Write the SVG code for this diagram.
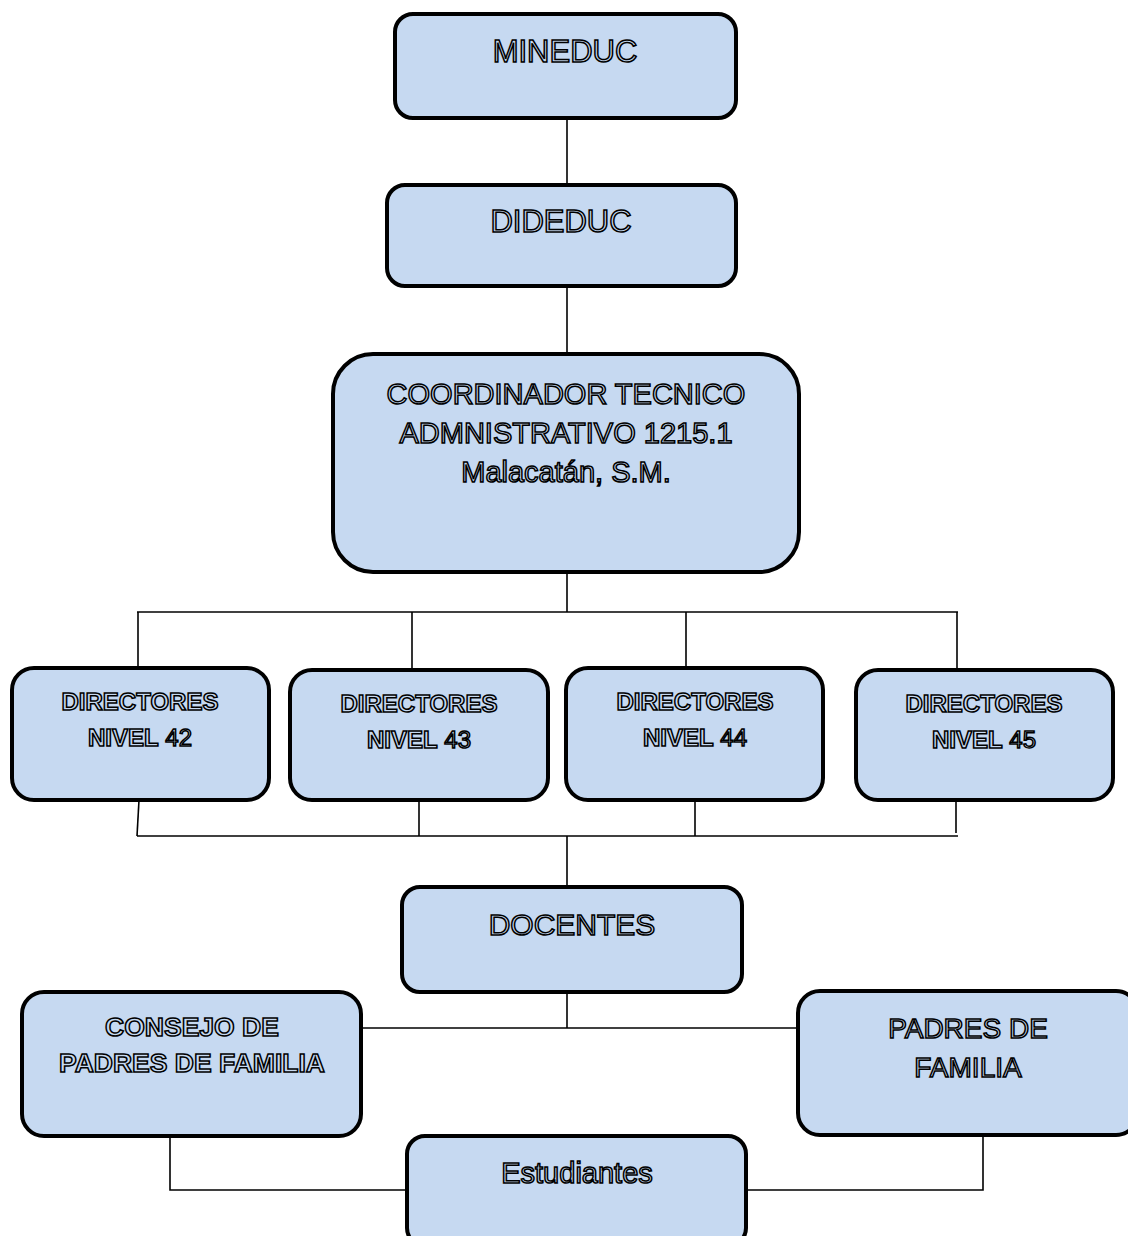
<svg xmlns="http://www.w3.org/2000/svg" width="1128" height="1236" viewBox="0 0 1128 1236">
<style>
.box{fill:#c6d9f1;stroke:#000;stroke-width:4}
.t{font-family:"Liberation Sans",Arial,sans-serif;fill:#c6d9f1;stroke:#000;stroke-width:1.5;text-anchor:middle}
.b{font-weight:bold}
.c{stroke:#000;stroke-width:1.6;fill:none}
</style>
<rect width="1128" height="1236" fill="#fff"/>
<g id="connectors">
<line class="c" x1="567" y1="118" x2="567" y2="185"/>
<line class="c" x1="567" y1="286" x2="567" y2="354"/>
<line class="c" x1="567" y1="572" x2="567" y2="612"/>
<line class="c" x1="137" y1="612" x2="958" y2="612"/>
<line class="c" x1="138" y1="612" x2="138" y2="668"/>
<line class="c" x1="412" y1="612" x2="412" y2="670"/>
<line class="c" x1="686" y1="612" x2="686" y2="668"/>
<line class="c" x1="957" y1="612" x2="957" y2="670"/>
<line class="c" x1="139" y1="800" x2="137" y2="836"/>
<line class="c" x1="419" y1="800" x2="419" y2="836"/>
<line class="c" x1="695" y1="800" x2="695" y2="836"/>
<line class="c" x1="956" y1="800" x2="956" y2="833"/>
<line class="c" x1="137" y1="836" x2="958" y2="836"/>
<line class="c" x1="567" y1="836" x2="567" y2="887"/>
<line class="c" x1="567" y1="992" x2="567" y2="1028"/>
<line class="c" x1="361" y1="1028" x2="798" y2="1028"/>
<polyline class="c" points="170,1136 170,1190 407,1190"/>
<polyline class="c" points="983,1135 983,1190 746,1190"/>
</g>
<g id="mineduc">
<rect class="box" x="395" y="14" width="341" height="104" rx="18"/>
<text class="t" x="565" y="62" font-size="31">MINEDUC</text>
</g>
<g id="dideduc">
<rect class="box" x="387" y="185" width="349" height="101" rx="18"/>
<text class="t" x="561" y="232" font-size="31">DIDEDUC</text>
</g>
<g id="coordinador">
<rect class="box" x="333" y="354" width="466" height="218" rx="40"/>
<text class="t" x="566" y="404" font-size="29">COORDINADOR TECNICO</text>
<text class="t" x="566" y="443" font-size="29">ADMNISTRATIVO 1215.1</text>
<text class="t" x="566" y="482" font-size="29">Malacatán, S.M.</text>
</g>
<g id="dir42">
<rect class="box" x="12" y="668" width="257" height="132" rx="22"/>
<text class="t" x="140" y="710" font-size="24"><tspan class="b">DIRECTORES</tspan></text>
<text class="t" x="140" y="746" font-size="24"><tspan class="b">NIVEL</tspan> 42</text>
</g>
<g id="dir43">
<rect class="box" x="290" y="670" width="258" height="130" rx="22"/>
<text class="t" x="419" y="712" font-size="24"><tspan class="b">DIRECTORES</tspan></text>
<text class="t" x="419" y="748" font-size="24"><tspan class="b">NIVEL</tspan> 43</text>
</g>
<g id="dir44">
<rect class="box" x="566" y="668" width="257" height="132" rx="22"/>
<text class="t" x="695" y="710" font-size="24"><tspan class="b">DIRECTORES</tspan></text>
<text class="t" x="695" y="746" font-size="24"><tspan class="b">NIVEL</tspan> 44</text>
</g>
<g id="dir45">
<rect class="box" x="856" y="670" width="257" height="130" rx="22"/>
<text class="t" x="984" y="712" font-size="24"><tspan class="b">DIRECTORES</tspan></text>
<text class="t" x="984" y="748" font-size="24"><tspan class="b">NIVEL</tspan> 45</text>
</g>
<g id="docentes">
<rect class="box" x="402" y="887" width="340" height="105" rx="18"/>
<text class="t" x="572" y="935" font-size="30">DOCENTES</text>
</g>
<g id="consejo">
<rect class="box" x="22" y="992" width="339" height="144" rx="22"/>
<text class="t b" x="192" y="1036" font-size="26.5">CONSEJO DE</text>
<text class="t b" x="192" y="1072" font-size="26.5">PADRES DE FAMILIA</text>
</g>
<g id="padres">
<rect class="box" x="798" y="991" width="340" height="144" rx="22"/>
<text class="t" x="968" y="1038" font-size="28">PADRES DE</text>
<text class="t" x="968" y="1077" font-size="28">FAMILIA</text>
</g>
<g id="estudiantes">
<rect class="box" x="407" y="1136" width="339" height="110" rx="18"/>
<text class="t" x="577" y="1183" font-size="29">Estudiantes</text>
</g>
</svg>
